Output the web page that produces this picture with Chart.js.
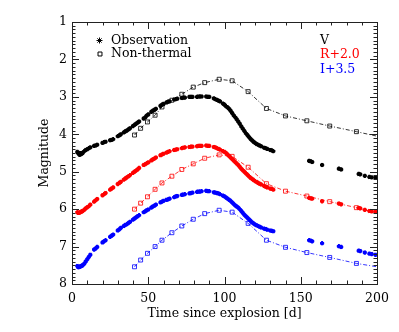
<!DOCTYPE html>
<html>
<head>
<meta charset="utf-8">
<script src="https://cdn.jsdelivr.net/npm/chart.js@4/dist/chart.umd.min.js"></script>
<style>
html,body{margin:0;padding:0;background:#fff;}
#wrap{width:399px;height:332px;}
</style>
</head>
<body>
<div id="wrap"><canvas id="c" width="399" height="332"></canvas></div>
<script>
// ---- data ----
const obsDays = [3.5,4,4.5,5,5.5,6,6.5,7,8,9,10,11,12,
  14.5,15.5,16.5, 20,21,22, 25,26,27, 30,31,32, 34,35,36,37,38, 40,41,42,43,44,
  47,48,49,50, 52,53,54,55, 58,59,60, 62,63,64, 67,68,69, 72,73,74, 77,78,79,
  82,83,84,85, 88,89,90, 93,94,95,96,97,
  99,100,101,102,103,104,105,106,107,108,109,110,111,112,113,114,115,116,117,118,119,120,121,122,123,124,126,127,128,130,131,132,
  155.5,156.5,157.5,164,175,176.5,188,189,192,195,196.5,199];

const vObs = [4.47,4.5,4.52,4.55,4.5,4.53,4.51,4.5,4.45,4.42,4.4,4.37,4.35,
  4.31,4.3,4.28, 4.23,4.21,4.2, 4.16,4.15,4.13, 4.05,4.03,4.0, 3.95,3.92,3.9,3.87,3.84, 3.78,3.75,3.72,3.69,3.66,
  3.58,3.55,3.5,3.47, 3.4,3.37,3.35,3.32, 3.24,3.21,3.19, 3.15,3.13,3.12, 3.07,3.06,3.05, 3.03,3.02,3.02, 3.0,3.0,3.0,
  3.0,2.99,2.99,2.99, 2.99,3.0,3.0, 3.04,3.06,3.08,3.1,3.12,
  3.18,3.21,3.25,3.28,3.32,3.37,3.43,3.49,3.54,3.6,3.66,3.72,3.79,3.85,3.91,3.97,4.02,4.07,4.12,4.16,4.2,4.23,4.26,4.28,4.3,4.32,4.36,4.37,4.39,4.42,4.43,4.45,
  4.71,4.72,4.74,4.82,4.92,4.94,5.06,5.07,5.11,5.14,5.15,5.16];

const rObs = [6.08,6.1,6.1,6.09,6.08,6.07,6.06,6.05,6.02,5.98,5.95,5.92,5.88,
  5.8,5.76,5.73, 5.63,5.6,5.57, 5.48,5.45,5.42, 5.33,5.3,5.27, 5.21,5.18,5.15,5.12,5.09, 5.03,5.0,4.97,4.94,4.9,
  4.82,4.8,4.77,4.75, 4.7,4.67,4.65,4.62, 4.56,4.54,4.52, 4.49,4.47,4.45, 4.42,4.41,4.4, 4.37,4.36,4.35, 4.34,4.33,4.33,
  4.32,4.31,4.31,4.31, 4.3,4.31,4.31, 4.34,4.35,4.37,4.39,4.41,
  4.45,4.47,4.5,4.54,4.58,4.62,4.66,4.7,4.74,4.78,4.82,4.87,4.92,4.96,5.0,5.04,5.08,5.12,5.16,5.19,5.22,5.25,5.27,5.3,5.32,5.34,5.38,5.4,5.42,5.45,5.46,5.48,
  5.7,5.71,5.72,5.79,5.85,5.87,5.97,5.98,6.02,6.05,6.06,6.07];

const iObs = [7.52,7.55,7.55,7.54,7.53,7.52,7.51,7.5,7.46,7.4,7.34,7.28,7.22,
  7.08,7.05,7.01, 6.89,6.86,6.83, 6.74,6.71,6.68, 6.57,6.54,6.5, 6.45,6.42,6.4,6.37,6.34, 6.28,6.25,6.22,6.19,6.16,
  6.08,6.06,6.03,6.01, 5.96,5.93,5.91,5.88, 5.82,5.8,5.78, 5.75,5.74,5.72, 5.68,5.66,5.65, 5.62,5.61,5.6, 5.58,5.57,5.56,
  5.54,5.53,5.53,5.52, 5.51,5.52,5.52, 5.55,5.56,5.57,5.58,5.6,
  5.64,5.66,5.69,5.72,5.75,5.78,5.82,5.86,5.9,5.93,5.96,6.0,6.05,6.1,6.15,6.19,6.23,6.27,6.31,6.35,6.38,6.41,6.43,6.45,6.47,6.49,6.52,6.53,6.55,6.57,6.58,6.59,
  6.83,6.84,6.86,6.91,6.99,7.01,7.11,7.12,7.16,7.19,7.2,7.22];

const ntDays = [41,45,49.5,54.5,59,65.5,72,79.5,87,96.5,105,115.5,127.5,140,154,169,186.5,200];
const vNT  = [4.02,3.84,3.67,3.49,3.27,3.09,2.93,2.74,2.62,2.53,2.57,2.86,3.31,3.51,3.64,3.78,3.93,4.05];
const rNT  = [6.0,5.84,5.67,5.47,5.3,5.12,4.94,4.79,4.64,4.55,4.59,4.88,5.32,5.52,5.65,5.8,5.96,6.1];
const iNT  = [7.54,7.36,7.18,7.0,6.83,6.63,6.45,6.27,6.12,6.03,6.08,6.38,6.83,7.02,7.16,7.29,7.45,7.54];

const xTickLabels = [0,50,100,150,200];
const yTickLabels = [1,2,3,4,5,6,7,8];
const legendLabels = ['Observation','Non-thermal'];
const bandLabels = ['V','R+2.0','I+3.5'];

// ---- styling ----
const FONT = 'DejaVu Serif';
const FS = 12.5;
const BLACK = '#000000', RED = '#ff0000', BLUE = '#0000ff';

function pts(t, m){ return t.map((x,i)=>({x:x, y:m[i]})); }

function obsSet(t, m, col){
  return {data: pts(t,m), showLine:false, pointStyle:'star', pointRadius:2.1,
    borderColor:col, backgroundColor:col, pointBorderWidth:2, borderWidth:2};
}
function ntSet(t, m, col){
  return {data: pts(t,m), showLine:true, borderColor:col, borderWidth:0.8,
    borderDash:[4,2,1,2], pointStyle:'rect', backgroundColor:'rgba(0,0,0,0)',
    pointBackgroundColor:'rgba(0,0,0,0)', pointBorderColor:col, pointBorderWidth:0.8,
    pointRadius: ctx => (ctx.raw && ctx.raw.x >= 200 ? 0 : 2.8), tension:0};
}

const frame = {
  id:'frame',
  afterDraw(chart){
    const ctx = chart.ctx, a = chart.chartArea;
    const xs = chart.scales.x, ys = chart.scales.y;
    ctx.save();
    ctx.strokeStyle = '#222'; ctx.lineWidth = 1;
    ctx.strokeRect(a.left+0.5, a.top+0.5, a.right-a.left, a.bottom-a.top);
    ctx.beginPath();
    for (let v=0; v<=200; v+=10){
      const px = Math.round(xs.getPixelForValue(v))+0.5;
      const L = (v%50===0)?7:3.5;
      ctx.moveTo(px, a.bottom); ctx.lineTo(px, a.bottom-L);
      ctx.moveTo(px, a.top); ctx.lineTo(px, a.top+L);
    }
    for (let k=10; k<=80; k++){
      const py = Math.round(ys.getPixelForValue(k/10))+0.5;
      const L = (k%10===0)?7:3.5;
      ctx.moveTo(a.left, py); ctx.lineTo(a.left+L, py);
      ctx.moveTo(a.right, py); ctx.lineTo(a.right-L, py);
    }
    ctx.stroke();
    // legend
    const h = Chart.helpers;
    ctx.strokeStyle = '#000'; ctx.fillStyle = 'rgba(0,0,0,0)';
    h.drawPoint(ctx, {pointStyle:'star', radius:3, borderWidth:1.2}, 99.5, 40.5);
    h.drawPoint(ctx, {pointStyle:'rect', radius:2.8, borderWidth:0.9}, 100, 54);
    ctx.font = FS + 'px "' + FONT + '"';
    ctx.textBaseline = 'middle'; ctx.textAlign = 'left';
    ctx.fillStyle = '#000';
    ctx.fillText(legendLabels[0], 111, 40.5);
    ctx.fillText(legendLabels[1], 111, 54);
    const cols = [BLACK, RED, BLUE];
    const ys2 = [40.5, 54.5, 70];
    bandLabels.forEach((s,i)=>{ ctx.fillStyle = cols[i]; ctx.fillText(s, 320, ys2[i]); });
    ctx.restore();
  }
};

new Chart(document.getElementById('c'), {
  type:'scatter',
  data:{datasets:[
    ntSet(ntDays, vNT, BLACK), ntSet(ntDays, rNT, RED), ntSet(ntDays, iNT, BLUE),
    obsSet(obsDays, vObs, BLACK), obsSet(obsDays, rObs, RED), obsSet(obsDays, iObs, BLUE)
  ]},
  options:{
    responsive:false, animation:false, devicePixelRatio:1,
    layout:{padding:{left:0, top:22, right:22, bottom:0}},
    plugins:{legend:{display:false}, tooltip:{enabled:false}},
    scales:{
      x:{type:'linear', min:0, max:200,
        afterFit: s => { s.height = 48; },
        afterBuildTicks: s => { s.ticks = xTickLabels.map(v=>({value:v})); },
        grid:{display:false, drawTicks:false}, border:{display:false},
        ticks:{padding:7, color:'#000', maxRotation:0, autoSkip:false,
          font:{family:FONT, size:FS}},
        title:{display:true, text:'Time since explosion [d]', color:'#000',
          font:{family:FONT, size:FS}, padding:{top:0, bottom:11}}},
      y:{type:'linear', reverse:true, min:1, max:8,
        afterFit: s => { s.width = 72; },
        afterBuildTicks: s => { s.ticks = yTickLabels.map(v=>({value:v})); },
        grid:{display:false, drawTicks:false}, border:{display:false},
        ticks:{padding:5, color:'#000', autoSkip:false,
          font:{family:FONT, size:FS}},
        title:{display:true, text:'Magnitude', color:'#000',
          font:{family:FONT, size:FS}, padding:{top:37, bottom:0}}}
    }
  },
  plugins:[frame]
});
</script>
</body>
</html>
